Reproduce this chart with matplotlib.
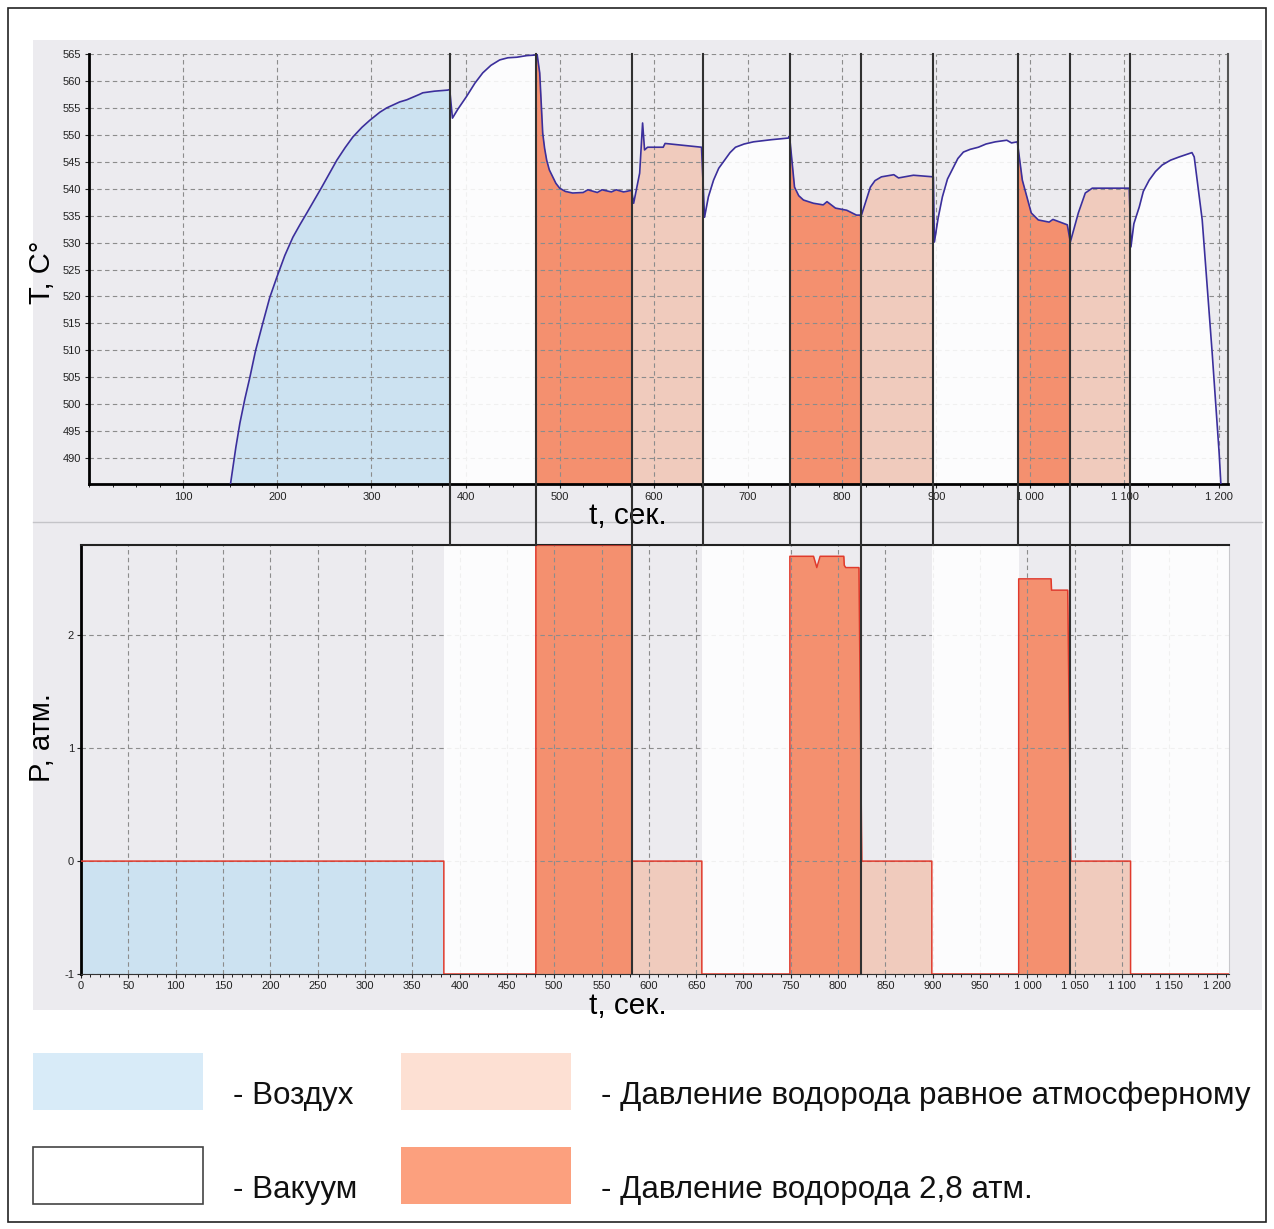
import numpy as np
import matplotlib.pyplot as plt
from matplotlib.patches import Rectangle
from matplotlib.lines import Line2D
from matplotlib.ticker import MultipleLocator, FuncFormatter
import matplotlib.transforms as mtransforms

plt.rcParams['font.family'] = ['Liberation Sans', 'DejaVu Sans']
plt.rcParams['axes.unicode_minus'] = False

# Температура образца, t (сек) / T (C)
t_temp = [150.4, 156.0, 160.3, 165.6, 170.9, 177.0, 184.7, 192.0, 199.6, 208.0, 216.6, 224.0,
          231.4, 240.0, 247.3, 256.0, 263.3, 272.0, 280.3, 290.0, 298.3, 309.0, 316.3, 330.0,
          337.6, 351.0, 354.6, 367.0, 381.1, 383.2,
          386.1, 392.0, 401.0, 410.0, 418.3, 427.0, 436.3, 445.0, 454.4, 465.0, 473.5, 476.0,
          478.8, 482.0, 484.0, 486.2, 489.0, 492.6, 496.0, 500.0, 506.0, 513.8, 525.0, 530.0,
          540.0, 545.0, 555.0, 560.0, 568.0, 576.4,
          578.6, 585.0, 588.1, 590.2, 593.4, 610.0, 612.0, 650.7,
          653.9, 658.0, 663.5, 669.0, 675.2, 681.0, 686.8, 696.0, 705.9, 725.0, 743.0,
          744.2, 749.5, 754.0, 759.0, 769.6, 780.0, 784.0, 793.0, 805.0, 815.3, 820.6,
          825.0, 830.1, 835.0, 841.8, 855.0, 860.0, 875.8, 897.0,
          898.1, 902.0, 906.6, 912.0, 918.3, 923.0, 928.9, 936.0, 944.8, 953.0, 962.8,
          975.0, 980.0, 986.2,
          991.5, 1001.0, 1008.5, 1020.0, 1024.0, 1039.3,
          1042.5, 1047.0, 1051.0, 1058.4, 1065.8, 1105.1,
          1106.9, 1110.0, 1115.7, 1120.0, 1126.3, 1133.0, 1140.1, 1149.0, 1158.2, 1171.7,
          1174.1, 1182.6, 1187.9, 1193.2, 1200.6, 1202.4]
temp = [485.3, 492.0, 496.5, 501.0, 505.0, 510.0, 515.1, 519.8, 523.6, 527.6, 531.0, 533.3,
        535.5, 538.1, 540.3, 543.0, 545.3, 547.6, 549.6, 551.4, 552.7, 554.2, 555.0, 556.1,
        556.5, 557.5, 557.8, 558.1, 558.3, 558.4,
        553.1, 554.8, 557.1, 559.6, 561.5, 562.9, 563.9, 564.3, 564.4, 564.7, 564.8, 565.0,
        561.5, 550.3, 547.5, 545.3, 543.5, 542.2, 541.0, 540.1, 539.5, 539.2, 539.3, 539.8,
        539.3, 539.8, 539.4, 539.8, 539.4, 539.7,
        537.3, 542.9, 552.2, 547.2, 547.7, 547.7, 548.4, 547.7,
        534.7, 538.5, 541.6, 543.8, 545.3, 546.7, 547.7, 548.3, 548.7, 549.1, 549.4,
        549.8, 540.3, 538.7, 537.9, 537.3, 537.0, 537.6, 536.4, 536.0, 535.1, 535.1,
        537.5, 540.3, 541.5, 542.2, 542.6, 542.0, 542.5, 542.2,
        530.1, 534.5, 538.5, 541.8, 544.0, 545.6, 546.8, 547.3, 547.7, 548.3, 548.7,
        549.0, 548.5, 548.7,
        541.6, 535.5, 534.2, 533.8, 534.3, 533.3,
        530.1, 533.0, 535.5, 539.2, 540.1, 540.1,
        529.2, 533.5, 536.6, 539.5, 541.6, 543.2, 544.4, 545.3, 545.9, 546.7,
        545.9, 534.2, 521.8, 509.5, 490.9, 485.3]

# Давление, t (сек) / P (атм)
t_pres = [0, 383.4, 383.4, 480.6, 480.6, 582.0, 582.0, 656.0, 656.0, 749.0, 749.0, 774.0,
          777.5, 781.0, 806.0, 806.5, 808.0, 822.0, 825.0, 899.0, 899.0, 990.8, 990.8,
          1025.0, 1025.5, 1042.6, 1045.8, 1109.0, 1109.0, 1213.0]
pres = [0, 0, -1, -1, 2.8, 2.8, 0, 0, -1, -1, 2.7, 2.7,
        2.6, 2.7, 2.7, 2.62, 2.6, 2.6, 0, 0, -1, -1, 2.5,
        2.5, 2.4, 2.4, 0, 0, -1, -1]

# Этапы: воздух, вакуум, водород 2,8 атм, водород при атмосферном давлении
phases = ['air', 'vac', 'h2', 'atm', 'vac', 'h2', 'atm', 'vac', 'h2', 'atm', 'vac']
bounds_T = [0, 383.2, 474.5, 576.4, 651.8, 744.2, 820.6, 897.0, 987.3, 1042.5, 1106.2, 1210]
bounds_P = [0, 383.4, 480.6, 582.0, 656.0, 749.0, 825.0, 899.0, 990.8, 1045.8, 1109.0, 1213]

legend_labels = {'air': '- Воздух', 'vac': '- Вакуум',
                 'atm': '- Давление водорода равное атмосферному',
                 'h2': '- Давление водорода 2,8 атм.'}

fill_col = {'air': '#cce2f1', 'h2': '#f4906f', 'atm': '#f0cbbd', 'vac': 'white'}
leg_col = {'air': '#d8ebf8', 'h2': '#fca07e', 'atm': '#fde0d3', 'vac': 'white'}
bg = '#ecebef'
W, H = 1274, 1229

fig = plt.figure(figsize=(W / 100, H / 100), dpi=100)


def fx(px):
    return px / W


def fy(py):
    return 1 - py / H


# серые подложки под графиками
fig.patches.append(Rectangle((fx(33), fy(522)), fx(1262 - 33), (522 - 40) / H,
                             transform=fig.transFigure, fc=bg, ec='none', zorder=-2))
fig.patches.append(Rectangle((fx(33), fy(1010)), fx(1262 - 33), (1010 - 522) / H,
                             transform=fig.transFigure, fc=bg, ec='none', zorder=-2))
fig.lines.append(Line2D([fx(33), fx(1262)], [fy(522), fy(522)], transform=fig.transFigure,
                        color='#c4c4c8', lw=1, zorder=-1))
# рамка
fig.patches.append(Rectangle((fx(8), fy(1222)), fx(1266 - 8), (1222 - 8) / H,
                             transform=fig.transFigure, fc='none', ec='#222222', lw=1.2))

grid_kw = dict(color='#8c8c8c', linestyle=(0, (4, 3)), linewidth=0.8)
fmt_sp = FuncFormatter(lambda v, p: f'{int(v):,}'.replace(',', ' '))

# ---------- температура ----------
ax1 = fig.add_axes([fx(89), fy(484), fx(1228 - 89), (484 - 54) / H])
ax1.set_facecolor(bg)
ax1.set_xlim(0, 1210)
ax1.set_ylim(485.2, 565)
tt = np.array(t_temp)
TT = np.array(temp)
for k, a, b in zip(phases, bounds_T[:-1], bounds_T[1:]):
    inside = (tt > a) & (tt < b)
    if not inside.any():
        continue
    lo, hi = max(a, tt[0]), min(b, tt[-1])
    xs = np.concatenate([[lo], tt[inside], [hi]])
    ys = np.interp(xs, tt, TT)
    if k == 'vac':
        ax1.fill_between(xs, ys, 485.2, color='white', alpha=0.88, lw=0, zorder=1.8)
    else:
        ax1.fill_between(xs, ys, 485.2, color=fill_col[k], lw=0, zorder=1)
ax1.plot(tt, TT, color='#3b2f9c', lw=1.2, zorder=3)

ax1.set_axisbelow('line')
ax1.grid(True, **grid_kw)
ax1.set_xticks(range(100, 1201, 100))
ax1.xaxis.set_minor_locator(MultipleLocator(25))
ax1.xaxis.set_major_formatter(fmt_sp)
ax1.set_yticks(range(490, 566, 5))
ax1.tick_params(labelsize=8, length=3, width=0.8, colors='#222222', pad=3)
ax1.tick_params(which='minor', length=2, width=0.6)
for s in ['left', 'bottom']:
    ax1.spines[s].set_linewidth(2)
    ax1.spines[s].set_color('black')
ax1.spines['right'].set_color('#555555')
ax1.spines['right'].set_linewidth(1.5)
ax1.spines['top'].set_visible(False)

# ---------- давление ----------
ax2 = fig.add_axes([fx(81), fy(974), fx(1229 - 81), (974 - 545) / H])
ax2.set_facecolor(bg)
ax2.set_xlim(0, 1213)
ax2.set_ylim(-1, 2.8)
tp = np.array(t_pres)
pp = np.array(pres)
for k, a, b in zip(phases, bounds_P[:-1], bounds_P[1:]):
    if k == 'vac':
        ax2.axvspan(a, b, color='white', alpha=0.88, lw=0, zorder=1.8)
        continue
    sel = (tp >= a) & (tp <= b)
    ax2.fill_between(tp[sel], pp[sel], -1, color=fill_col[k], lw=0, zorder=1)
ax2.plot(tp, pp, color='#e03a2c', lw=1.1, zorder=3)

ax2.set_axisbelow('line')
ax2.grid(True, **grid_kw)
ax2.set_xticks(range(0, 1201, 50))
ax2.xaxis.set_minor_locator(MultipleLocator(10))
ax2.xaxis.set_major_formatter(fmt_sp)
ax2.set_yticks([-1, 0, 1, 2])
ax2.tick_params(labelsize=8, length=3, width=0.8, colors='#222222', pad=2)
ax2.tick_params(which='minor', length=2, width=0.6)
ax2.spines['left'].set_linewidth(2)
ax2.spines['left'].set_color('black')
ax2.spines['top'].set_linewidth(1.5)
ax2.spines['top'].set_color('#222222')
ax2.spines['bottom'].set_color('#333333')
ax2.spines['right'].set_color('#c8c8cc')

# вертикальные границы этапов, общие для обоих графиков
trans = mtransforms.blended_transform_factory(ax1.transData, fig.transFigure)
for i, x in enumerate(bounds_T[1:-1]):
    full = phases[i] == 'h2'
    y0 = fy(974) if full else fy(545)
    fig.lines.append(Line2D([x, x], [y0, fy(54)], transform=trans,
                            color='#303030', lw=1.5, zorder=5))

# подписи осей
fig.text(fx(42), fy(272), 'T, C°', rotation=90, ha='center', va='center', fontsize=21)
fig.text(fx(42), fy(738), 'P, атм.', rotation=90, ha='center', va='center', fontsize=21)
fig.text(fx(628), fy(516), 't, сек.', ha='center', va='center', fontsize=21.5)
fig.text(fx(628), fy(1006), 't, сек.', ha='center', va='center', fontsize=21.5)

# легенда
legend_pos = [('air', 33, 1053, 233), ('atm', 401, 1053, 601),
              ('vac', 33, 1147, 233), ('h2', 401, 1147, 601)]
for k, x0, y0, tx in legend_pos:
    ec = '#444444' if k == 'vac' else 'none'
    fig.patches.append(Rectangle((fx(x0), fy(y0 + 57)), fx(170), 57 / H,
                                 transform=fig.transFigure, fc=leg_col[k], ec=ec, lw=1.2))
    fig.text(fx(tx), fy(y0 + 51), legend_labels[k], ha='left', va='baseline',
             fontsize=22.6, color='#111111')

fig.savefig('out.png', dpi=100, facecolor='white')
